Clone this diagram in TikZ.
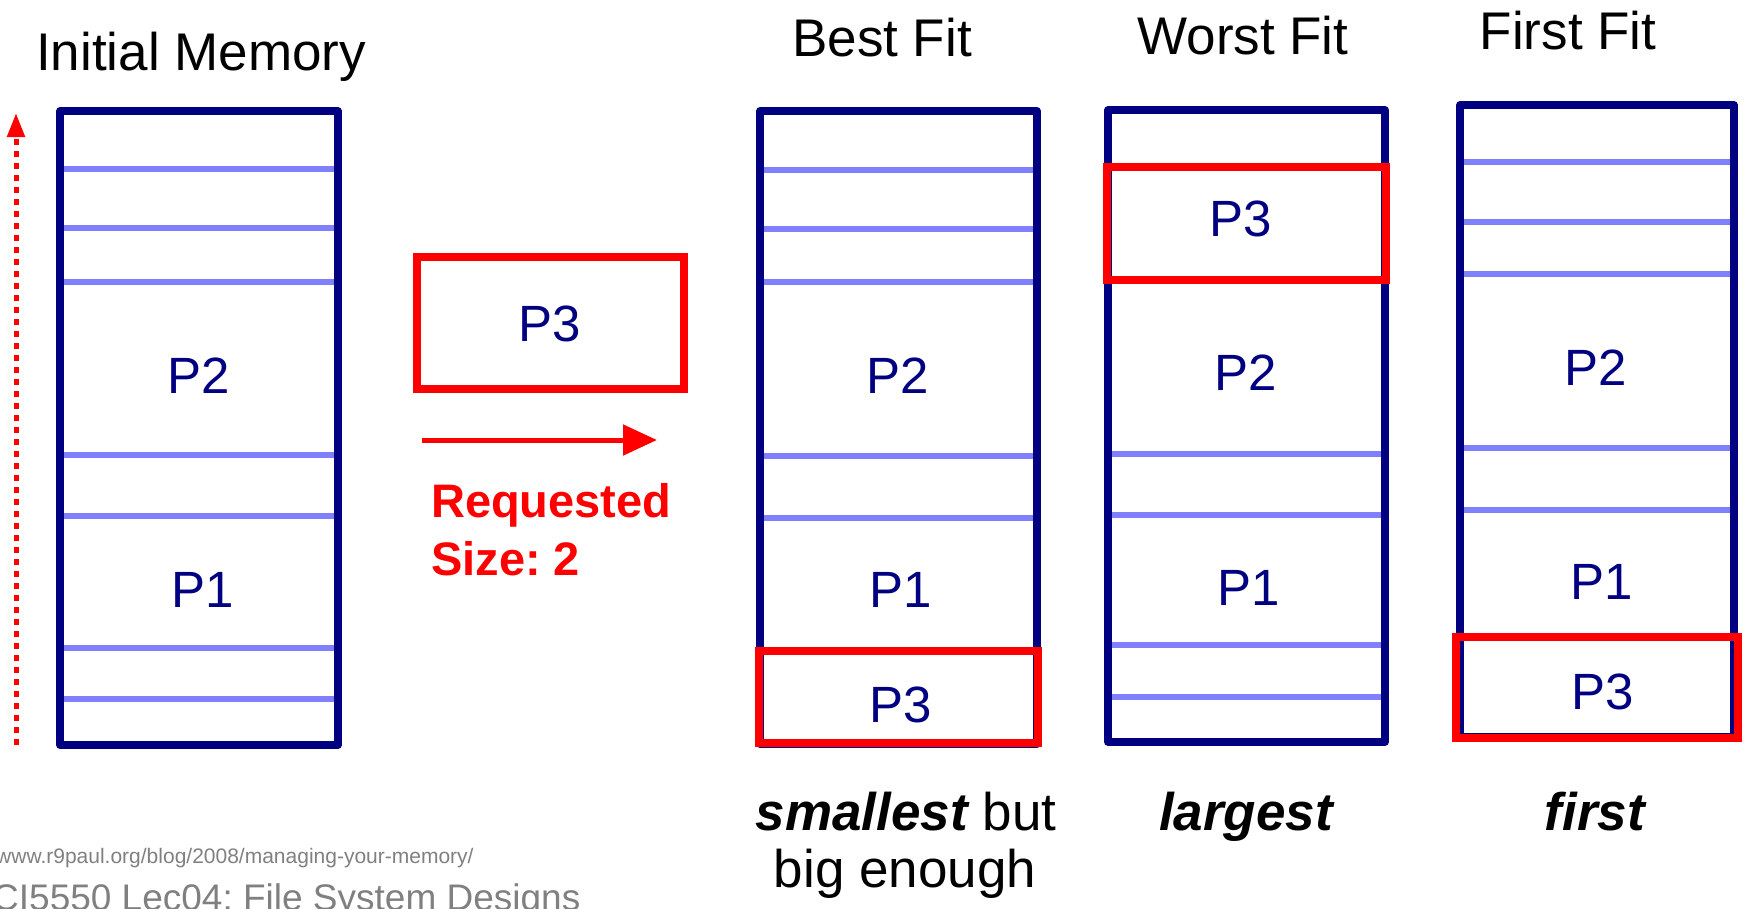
\documentclass[tikz,border=0pt]{standalone}
\usepackage{fontspec}
\setmainfont{Liberation Sans}
\usetikzlibrary{arrows.meta}
\frenchspacing

\definecolor{navy}{RGB}{0,0,128}
\definecolor{slot}{RGB}{128,128,255}
\definecolor{alloc}{RGB}{255,0,0}
\definecolor{note}{RGB}{128,128,128}

\tikzset{
  memframe/.style={draw=navy, line width=7.5pt, line join=round},
  slotline/.style={draw=slot, line width=5.5pt},
  allocbox/.style={draw=alloc, line width=8pt},
  plabel/.style={text=navy, font=\fontsize{51}{60}\selectfont, anchor=base, inner sep=0pt},
  title/.style={font=\fontsize{53}{64}\selectfont, anchor=base, inner sep=0pt},
  caption/.style={font=\fontsize{53}{64}\selectfont, anchor=base, inner sep=0pt},
  reqtext/.style={text=alloc, font=\bfseries\fontsize{47}{58}\selectfont, anchor=base west, inner sep=0pt},
}

\begin{document}
\begin{tikzpicture}[x=1pt,y=-1pt]
\useasboundingbox (0,0) rectangle (1749,908);
\clip (0,0) rectangle (1749,908);

% ---------- column titles ----------
\node[title] (ttl-init)  at (201,70) {Initial Memory};
\node[title] (ttl-best)  at (882,56) {Best Fit};
\node[title] (ttl-worst) at (1243,54) {Worst Fit};
\node[title] (ttl-first) at (1568,49) {First Fit};

% ---------- initial memory ----------
\foreach \y in {169,228,282,455,516,648,699}
  \draw[slotline] (60,\y) -- (338,\y);
\draw[memframe] (60,111) rectangle (338,745);
\node[plabel] (init-p2) at (199,393) {P2};
\node[plabel] (init-p1) at (203,607) {P1};

% address direction
\coordinate (addr-low)  at (16,745);
\coordinate (addr-high) at (16,113);
\draw[alloc, line width=5pt, dash pattern=on 6pt off 6pt,
      -{Triangle[length=24pt,width=17pt]}] (addr-low) -- (addr-high);

% ---------- request ----------
\draw[allocbox] (417,257) rectangle (684,389);
\node[plabel] (req-p3) at (550,341) {P3};
\coordinate (req-from) at (422,440);
\coordinate (req-to)   at (657,440);
\draw[alloc, line width=5pt, -{Triangle[length=34pt,width=30pt]}] (req-from) -- (req-to);
\node[reqtext] (req-line1) at (431,517) {Requested};
\node[reqtext] (req-line2) at (431,575) {Size: 2};

% ---------- best fit ----------
\foreach \y in {170,229,282,456,518}
  \draw[slotline] (760,\y) -- (1037,\y);
\draw[memframe] (760,111) rectangle (1037,744);
\draw[allocbox] (759,651) rectangle (1038,743);
\node[plabel] (best-p2) at (898,393) {P2};
\node[plabel] (best-p1) at (901,607) {P1};
\node[plabel] (best-p3) at (901,722) {P3};

% ---------- worst fit ----------
\foreach \y in {454,515,645,697}
  \draw[slotline] (1108,\y) -- (1385,\y);
\draw[memframe] (1108,110) rectangle (1385,742);
\draw[allocbox] (1107,167) rectangle (1386,280);
\node[plabel] (worst-p3) at (1241,236) {P3};
\node[plabel] (worst-p2) at (1246,390) {P2};
\node[plabel] (worst-p1) at (1249,605) {P1};

% ---------- first fit ----------
\foreach \y in {162,222,274,448,510}
  \draw[slotline] (1460,\y) -- (1734,\y);
\draw[memframe] (1460,105) rectangle (1734,737);
\draw[allocbox] (1456,637) rectangle (1738,738);
\node[plabel] (first-p2) at (1596,385) {P2};
\node[plabel] (first-p1) at (1602,599) {P1};
\node[plabel] (first-p3) at (1603,709) {P3};

% ---------- captions ----------
\node[caption] (cap-best-a) at (906,830) {{\bfseries\itshape smallest} but};
\node[caption] (cap-best-b) at (905,887) {big enough};
\node[caption] (cap-worst)  at (1246,830) {\bfseries\itshape largest};
\node[caption] (cap-first)  at (1595,830) {\bfseries\itshape first};

% ---------- footer ----------
\node[anchor=base west, inner sep=0pt, text=note, font=\fontsize{21}{25}\selectfont]
  (src) at (-4,863) {www.r9paul.org/blog/2008/managing-your-memory/};
\node[anchor=base west, inner sep=0pt, text=note, font=\fontsize{37}{44}\selectfont]
  (course) at (-8,910) {CI5550 Lec04: File System Designs};
\end{tikzpicture}
\end{document}
